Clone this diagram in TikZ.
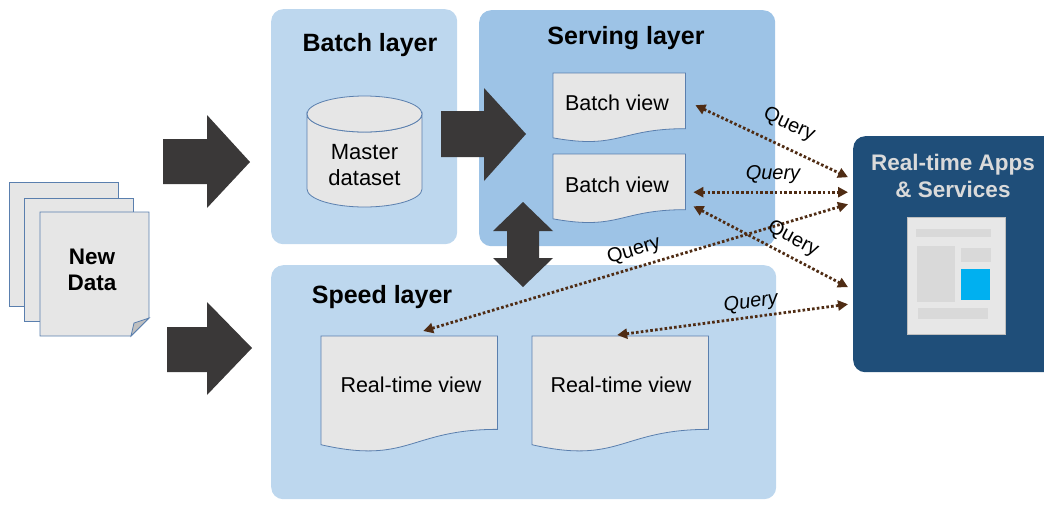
\documentclass[tikz,border=0pt]{standalone}
\usepackage{fontspec}
\setmainfont{Liberation Sans}
\usetikzlibrary{arrows.meta,calc}
\definecolor{lightlayer}{HTML}{BDD7EE}
\definecolor{servlayer}{HTML}{9DC3E6}
\definecolor{docfill}{HTML}{E6E6E6}
\definecolor{docline}{HTML}{5A7FAE}
\definecolor{bigarrow}{HTML}{3A3838}
\definecolor{querycol}{HTML}{4F2C14}
\definecolor{appsblue}{HTML}{1F4E79}
\definecolor{appstext}{HTML}{DADADA}
\definecolor{iconbg}{HTML}{E7E7E7}
\definecolor{iconbar}{HTML}{D9D9D9}
\definecolor{iconblue}{HTML}{00B0F0}
\definecolor{foldgray}{HTML}{BFBFBF}
\newcommand\docpath[1]{%
  \draw[docshape] (#1.north west) -- (#1.north east)
    -- ($(#1.north east)!0.802!(#1.south east)$)
    .. controls ($(#1.north)!0.802!(#1.south)$) and ($(#1.north)!1.107!(#1.south)$)
    .. ($(#1.north west)!0.934!(#1.south west)$) -- cycle;}
\begin{document}
\begin{tikzpicture}[x=1pt,y=-1pt,
  layerbox/.style={draw=none, rounded corners=12pt, inner sep=0pt, anchor=north west},
  titletext/.style={font=\fontsize{25}{29}\selectfont\bfseries, text=black},
  docbox/.style={draw=none, inner sep=0pt, anchor=north west},
  docshape/.style={draw=docline, line width=0.8pt, fill=docfill},
  viewtext/.style={font=\fontsize{21.5}{25}\selectfont, text=black},
  pagebox/.style={draw=docline, line width=0.8pt, fill=docfill, inner sep=0pt, anchor=north west},
  blockarrow/.style={fill=bigarrow, draw=none},
  query/.style={draw=querycol, line width=2.8pt, dash pattern=on 2.6pt off 2.2pt,
    {Triangle[length=10pt,width=10pt,fill=querycol]}-{Triangle[length=10pt,width=10pt,fill=querycol]}},
  querytext/.style={font=\fontsize{20}{24}\selectfont, text=black},
  iconpart/.style={draw=none, fill=iconbar}
]
\useasboundingbox (0,0) rectangle (1044,504);
\clip (0,0) rectangle (1044,504);

% layers
\node[layerbox, fill=lightlayer, minimum width=186, minimum height=235] (batch) at (271,9) {};
\node[layerbox, fill=servlayer, minimum width=296, minimum height=236] (serving) at (479,10) {};
\node[layerbox, fill=lightlayer, minimum width=505, minimum height=234] (speed) at (271,265) {};

\node[titletext] (batchT) at (370,45) {Batch layer};
\node[titletext] (servT) at (626,38) {Serving layer};
\node[titletext] (speedT) at (382,297) {Speed layer};

% master dataset cylinder
\node[docbox, minimum width=115, minimum height=112] (master) at (307,96) {};
\draw[docshape] (307,114) -- (307,189) arc[start angle=180, end angle=0, x radius=57.5, y radius=18]
  -- (422,114) arc[start angle=0, end angle=180, x radius=57.5, y radius=18] -- cycle;
\draw[docshape] (364.5,114) ellipse[x radius=57.5, y radius=18];
\node[viewtext, align=center, font=\fontsize{22}{26}\selectfont] (masterT) at (364.5,165) {Master\\dataset};

% views
\node[docbox, minimum width=132, minimum height=69] (bv1) at (553,73) {};
\docpath{bv1}
\node[viewtext] (bv1T) at (617,103) {Batch view};
\node[docbox, minimum width=132, minimum height=69] (bv2) at (553,154) {};
\docpath{bv2}
\node[viewtext] (bv2T) at (617,185) {Batch view};
\node[docbox, minimum width=176, minimum height=116] (rv1) at (321,336) {};
\docpath{rv1}
\node[viewtext] (rv1T) at (411,385) {Real-time view};
\node[docbox, minimum width=176, minimum height=116] (rv2) at (532,336) {};
\docpath{rv2}
\node[viewtext] (rv2T) at (621,385) {Real-time view};

% new data pages
\node[pagebox, minimum width=109, minimum height=124] (page1) at (9,182) {};
\node[pagebox, minimum width=109, minimum height=123] (page2) at (24,198) {};
\draw[docshape] (40,212) -- (149,212) -- (149,318) -- (131,336) -- (40,336) -- cycle;
\draw[draw=docline, line width=0.8pt, fill=foldgray] (131,336) -- (134,323) -- (149,318) -- cycle;
\node[titletext, align=center, font=\fontsize{22.5}{26}\selectfont\bfseries] (newdata) at (92,270) {New\\Data};

% block arrows
\fill[blockarrow] (163,139) -- (207,139) -- (207,115) -- (250,162) -- (207,208) -- (207,184) -- (163,184) -- cycle;
\fill[blockarrow] (167,327) -- (207,327) -- (207,302) -- (252,348) -- (207,395) -- (207,372) -- (167,372) -- cycle;
\fill[blockarrow] (441,111) -- (484,111) -- (484,88) -- (526,134) -- (484,181) -- (484,157) -- (441,157) -- cycle;
\fill[blockarrow] (523,202) -- (553,231) -- (539,231) -- (539,258) -- (553,258) -- (523,287)
  -- (493,258) -- (507,258) -- (507,231) -- (493,231) -- cycle;

% apps box
\node[layerbox, fill=appsblue, minimum width=210, minimum height=236] (apps) at (853,136) {};
\node[align=center, text=appstext, font=\fontsize{22.5}{27}\selectfont\bfseries] (appsT) at (953,176) {Real-time Apps\\\& Services};
\node[docbox, fill=iconbg, draw=foldgray, line width=0.6pt, minimum width=98, minimum height=117] (icon) at (907,217) {};
\fill[iconpart] (916,229) rectangle (991,237);
\fill[iconpart] (917,246) rectangle (955,302);
\fill[iconpart] (961,248) rectangle (991,262);
\fill[iconblue] (961,269) rectangle (990,300);
\fill[iconpart] (918,308) rectangle (988,319);

% query connectors
\coordinate (q1a) at ($(bv1.east)+(10,-2.5)$);
\coordinate (q1b) at ($(apps.west)+(-5,-77)$);
\coordinate (q2a) at ($(bv2.east)+(8,3.5)$);
\coordinate (q2b) at ($(apps.west)+(-5,-62)$);
\coordinate (q3a) at ($(bv2.east)+(8,17.5)$);
\coordinate (q3b) at ($(apps.west)+(-5,33)$);
\coordinate (q4a) at ($(rv1.north)+(14,-5)$);
\coordinate (q4b) at ($(apps.west)+(-5,-50)$);
\coordinate (q5a) at ($(rv2.north)+(-3,-1)$);
\coordinate (q5b) at ($(apps.west)+(-5,50)$);
\draw[query] (q1a) -- (q1b);
\draw[query] (q2a) -- (q2b);
\draw[query] (q3a) -- (q3b);
\draw[query] (q4a) -- (q4b);
\draw[query] (q5a) -- (q5b);

\node[querytext, rotate=-25] (ql1) at (789,125) {Query};
\node[querytext, font=\fontsize{20}{24}\selectfont\itshape] (ql2) at (773,175) {Query};
\node[querytext, rotate=-28] (ql3) at (793,239) {Query};
\node[querytext, rotate=16.6] (ql4) at (634,251) {Query};
\node[querytext, rotate=7.9, font=\fontsize{20}{24}\selectfont\itshape] (ql5) at (751,303) {Query};
\end{tikzpicture}
\end{document}
